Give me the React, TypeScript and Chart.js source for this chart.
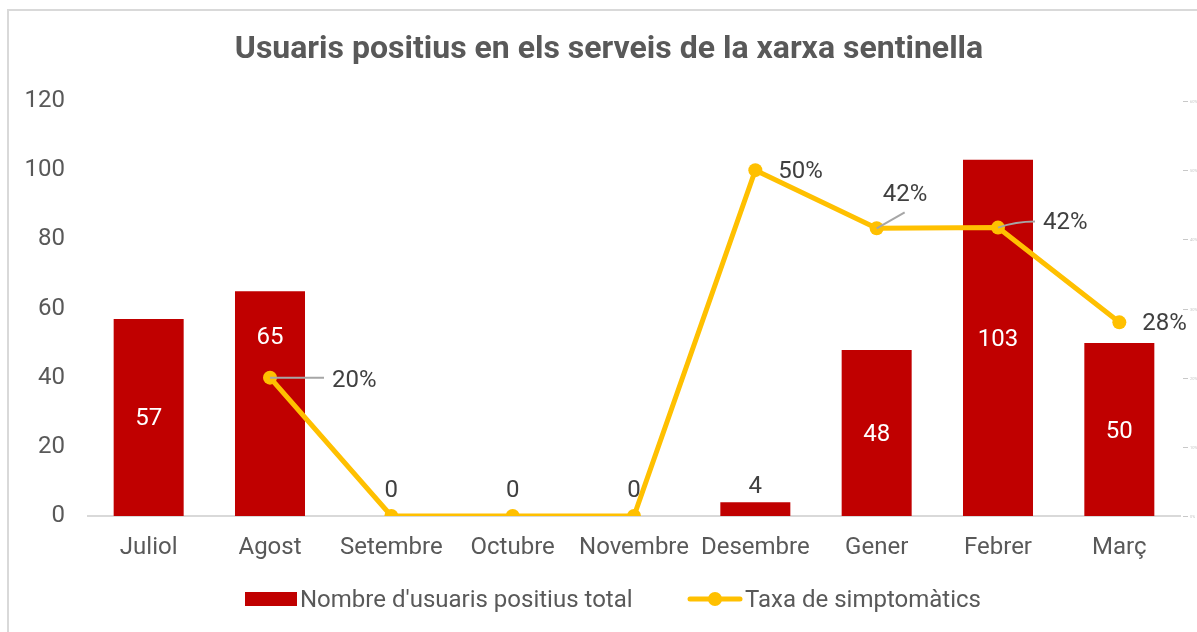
import React, { useEffect, useRef } from "react";
import { Chart, registerables } from "chart.js";

Chart.register(...registerables);

const categories = ["Juliol", "Agost", "Setembre", "Octubre", "Novembre", "Desembre", "Gener", "Febrer", "Març"];
const usuarisPositius = [57, 65, 0, 0, 0, 4, 48, 103, 50];
const taxaSimptomatics: (number | null)[] = [null, 0.2, 0, 0, 0, 0.5, 0.416, 0.417, 0.28];
const leftMax = 120;
const leftStep = 20;
const rightMax = 0.6;
const rightStep = 0.1;
const titleText = "Usuaris positius en els serveis de la xarxa sentinella";
const barLabel = "Nombre d'usuaris positius total";
const lineLabel = "Taxa de simptomàtics";

const RED = "#C00000";
const YELLOW = "#FFC000";
const GRAY_TEXT = "#595959";
const DARK_TEXT = "#404040";
const FONT = "Roboto, 'Noto Sans', sans-serif";
const FS = 24;

const pctFmt = (v: number) => (v === 0 ? "0" : Math.round(v * 100) + "%");

const customPlugin = {
  id: "custom",
  beforeDraw(chart: any) {
    const ctx = chart.ctx;
    ctx.save();
    ctx.fillStyle = "#fff";
    ctx.fillRect(0, 0, chart.width, chart.height);
    ctx.strokeStyle = "#d9d9d9";
    ctx.lineWidth = 2;
    ctx.beginPath();
    ctx.moveTo(7, 10);
    ctx.lineTo(chart.width, 10);
    ctx.moveTo(8, 10);
    ctx.lineTo(8, chart.height);
    ctx.stroke();
    // title
    ctx.fillStyle = GRAY_TEXT;
    ctx.font = `bold 32px ${FONT}`;
    ctx.textAlign = "center";
    ctx.textBaseline = "middle";
    ctx.fillText(titleText, 609, 50);
    ctx.restore();
  },
  afterDatasetsDraw(chart: any) {
    const ctx = chart.ctx;
    ctx.save();
    ctx.font = `${FS}px ${FONT}`;
    ctx.textBaseline = "middle";
    // bar labels
    const barMeta = chart.getDatasetMeta(0);
    barMeta.data.forEach((el: any, i: number) => {
      const v = usuarisPositius[i];
      if (v === 0) return;
      ctx.textAlign = "center";
      if (v < 10) {
        ctx.fillStyle = DARK_TEXT;
        ctx.fillText(String(v), el.x, el.y - 15);
      } else {
        ctx.fillStyle = "#fff";
        const frac = i === 1 ? 0.8 : 0.5;
        ctx.fillText(String(v), el.x, el.base - (el.base - el.y) * frac + 2);
      }
    });
    // line labels
    const lineMeta = chart.getDatasetMeta(1);
    lineMeta.data.forEach((el: any, i: number) => {
      const v = taxaSimptomatics[i];
      if (v === null || v === undefined) return;
      const txt = pctFmt(v);
      ctx.fillStyle = DARK_TEXT;
      ctx.strokeStyle = "#a6a6a6";
      ctx.lineWidth = 2;
      if (v === 0) {
        ctx.textAlign = "center";
        ctx.fillText(txt, el.x, el.y - 25);
      } else if (i === 1) {
        ctx.beginPath();
        ctx.moveTo(el.x, el.y);
        ctx.lineTo(el.x + 54, el.y);
        ctx.stroke();
        ctx.textAlign = "left";
        ctx.fillText(txt, el.x + 62, el.y + 3);
      } else if (i === 6) {
        ctx.beginPath();
        ctx.moveTo(el.x, el.y);
        ctx.lineTo(el.x + 28, el.y - 16);
        ctx.stroke();
        ctx.textAlign = "left";
        ctx.fillText(txt, el.x + 6, el.y - 33);
      } else if (i === 7) {
        ctx.beginPath();
        ctx.moveTo(el.x, el.y);
        ctx.quadraticCurveTo(el.x + 18, el.y - 6, el.x + 37, el.y - 6);
        ctx.stroke();
        ctx.textAlign = "left";
        ctx.fillText(txt, el.x + 45, el.y - 5);
      } else {
        ctx.textAlign = "left";
        ctx.fillText(txt, el.x + 23, el.y + 2);
      }
    });
    ctx.restore();
  },
  afterDraw(chart: any) {
    const ctx = chart.ctx;
    ctx.save();
    // right axis tiny ticks
    const y1 = chart.scales.y1;
    ctx.strokeStyle = "#c8c8c8";
    ctx.fillStyle = "#c8c8c8";
    ctx.lineWidth = 1;
    ctx.font = `4px ${FONT}`;
    ctx.textBaseline = "middle";
    ctx.textAlign = "left";
    y1.ticks.forEach((t: any) => {
      const y = Math.round(y1.getPixelForValue(t.value)) + 0.5;
      ctx.beginPath();
      ctx.moveTo(1183, y);
      ctx.lineTo(1188, y);
      ctx.stroke();
      ctx.fillText(Math.round(t.value * 100) + "%", 1190, y);
    });
    // legend
    const ly = 599;
    ctx.fillStyle = RED;
    ctx.fillRect(245, ly - 7, 52, 14);
    ctx.font = `${FS}px ${FONT}`;
    ctx.fillStyle = GRAY_TEXT;
    ctx.textBaseline = "middle";
    ctx.fillText(barLabel, 300, ly + 2);
    ctx.strokeStyle = YELLOW;
    ctx.lineWidth = 5;
    ctx.lineCap = "round";
    ctx.beginPath();
    ctx.moveTo(690, ly);
    ctx.lineTo(740, ly);
    ctx.stroke();
    ctx.fillStyle = YELLOW;
    ctx.beginPath();
    ctx.arc(715, ly, 7, 0, Math.PI * 2);
    ctx.fill();
    ctx.fillStyle = GRAY_TEXT;
    ctx.fillText(lineLabel, 745, ly + 2);
    ctx.restore();
  },
};

export default function App() {
  const ref = useRef<HTMLCanvasElement>(null);
  useEffect(() => {
    document.body.style.margin = "0";
    document.body.style.overflow = "hidden";
    const chart = new Chart(ref.current!, {
      type: "bar",
      data: {
        labels: categories,
        datasets: [
          {
            type: "bar",
            label: barLabel,
            data: usuarisPositius,
            backgroundColor: RED,
            categoryPercentage: 1,
            barPercentage: 0.577,
            yAxisID: "y",
            order: 2,
          },
          {
            type: "line",
            label: lineLabel,
            data: taxaSimptomatics,
            borderColor: YELLOW,
            backgroundColor: YELLOW,
            borderWidth: 5,
            pointRadius: 7,
            pointBackgroundColor: YELLOW,
            pointBorderWidth: 0,
            tension: 0,
            yAxisID: "y1",
            order: 1,
          } as any,
        ],
      },
      options: {
        animation: false,
        responsive: false,
        layout: { padding: { top: 101, right: 17, bottom: 0, left: 0 } },
        plugins: { legend: { display: false }, title: { display: false }, tooltip: { enabled: false } },
        scales: {
          x: {
            grid: { display: false, drawTicks: false },
            border: { display: true, color: "#d9d9d9", width: 2 },
            ticks: { color: GRAY_TEXT, font: { size: FS, family: FONT }, padding: 18 },
            afterFit(scale: any) {
              scale.height = 116;
            },
          },
          y: {
            position: "left",
            min: 0,
            max: leftMax,
            grid: { display: false, drawTicks: false },
            border: { display: false },
            ticks: { stepSize: leftStep, color: GRAY_TEXT, font: { size: FS, family: FONT }, padding: 23 },
            afterFit(scale: any) {
              scale.width = 88;
            },
          },
          y1: {
            position: "right",
            display: false,
            min: 0,
            max: rightMax,
            ticks: { stepSize: rightStep },
          },
        },
      },
      plugins: [customPlugin],
    });
    return () => chart.destroy();
  }, []);
  return <canvas ref={ref} width={1197} height={632} style={{ display: "block" }} />;
}
